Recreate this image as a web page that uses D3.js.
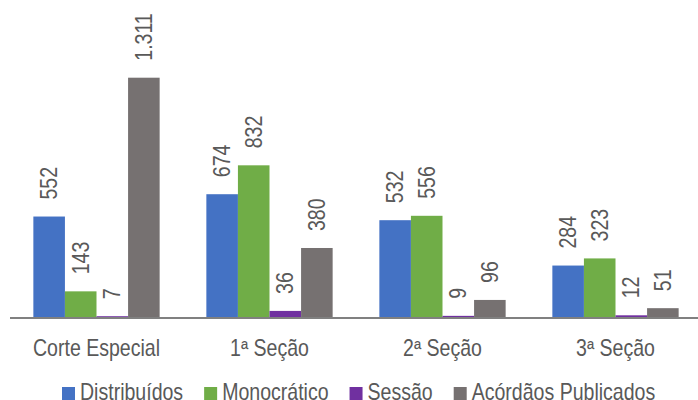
<!DOCTYPE html>
<html>
<head>
<meta charset="utf-8">
<script src="https://cdn.jsdelivr.net/npm/d3@7"></script>
<style>
  html, body { margin: 0; padding: 0; background: #fff; overflow: hidden; }
  svg { display: block; }
  text { font-family: "Liberation Sans", Arial, sans-serif; fill: #595959; }
</style>
</head>
<body>
<svg id="chart" width="698" height="400"></svg>
<script>
const categories = ["Corte Especial", "1ª Seção", "2ª Seção", "3ª Seção"];
const seriesNames = ["Distribuídos", "Monocrático", "Sessão", "Acórdãos Publicados"];
const distribuidos = [552, 674, 532, 284];
const monocratico = [143, 832, 556, 323];
const sessao = [7, 36, 9, 12];
const acordaos = [1311, 380, 96, 51];
const valueLabels = [
  ["552", "674", "532", "284"],
  ["143", "832", "556", "323"],
  ["7", "36", "9", "12"],
  ["1.311", "380", "96", "51"]
];
const colors = ["#4472C4", "#70AD47", "#7030A0", "#767171"];

const seriesValues = [distribuidos, monocratico, sessao, acordaos];
const svg = d3.select("#chart");
const W = 698, H = 400;
const baseY = 317.5;
const SX = 0.85; // narrow font emulation
const FS = 23;

const x0 = d3.scaleBand().domain(categories).range([10, 702]).paddingInner(0.27).paddingOuter(0.135);
const x1 = d3.scaleBand().domain(seriesNames).range([0, x0.bandwidth()]).padding(0);
const y = d3.scaleLinear().domain([0, 1400]).range([baseY, baseY - 1400 * (239.8 / 1311)]);

const data = [];
categories.forEach((c, ci) => {
  seriesNames.forEach((s, si) => {
    data.push({ cat: c, series: s, si, value: seriesValues[si][ci], label: valueLabels[si][ci] });
  });
});

const g = svg.append("g");
g.selectAll("rect.bar").data(data).enter().append("rect")
  .attr("class", "bar")
  .attr("x", d => x0(d.cat) + x1(d.series))
  .attr("y", d => y(d.value))
  .attr("width", x1.bandwidth())
  .attr("height", d => y(0) - y(d.value))
  .attr("fill", d => colors[d.si]);

// axis line
svg.append("line")
  .attr("x1", 10).attr("x2", W)
  .attr("y1", baseY + 0.5).attr("y2", baseY + 0.5)
  .attr("stroke", "#808080").attr("stroke-width", 2);

// value labels rotated
g.selectAll("text.val").data(data).enter().append("text")
  .attr("class", "val")
  .attr("transform", d => {
    const cx = x0(d.cat) + x1(d.series) + x1.bandwidth() / 2;
    const ty = y(d.value) - 17;
    return `translate(${cx},${ty}) rotate(-90) scale(${SX},1)`;
  })
  .attr("text-anchor", "start")
  .attr("dy", "0.35em")
  .style("font-size", FS + "px")
  .text(d => d.label);

// category labels
svg.selectAll("text.cat").data(categories).enter().append("text")
  .attr("class", "cat")
  .attr("transform", d => `translate(${x0(d) + x0.bandwidth() / 2},356) scale(${SX},1)`)
  .attr("text-anchor", "middle")
  .style("font-size", FS + "px")
  .text(d => d);

// legend
const leg = svg.append("g");
let lx = 62;
seriesNames.forEach((s, i) => {
  leg.append("rect").attr("x", lx).attr("y", 387).attr("width", 13).attr("height", 13).attr("fill", colors[i]);
  const t = leg.append("text")
    .attr("transform", `translate(${lx + 18},400) scale(${SX},1)`)
    .style("font-size", FS + "px").text(s);
  lx += 18 + t.node().getComputedTextLength() * SX + 21;
});
</script>
</body>
</html>
